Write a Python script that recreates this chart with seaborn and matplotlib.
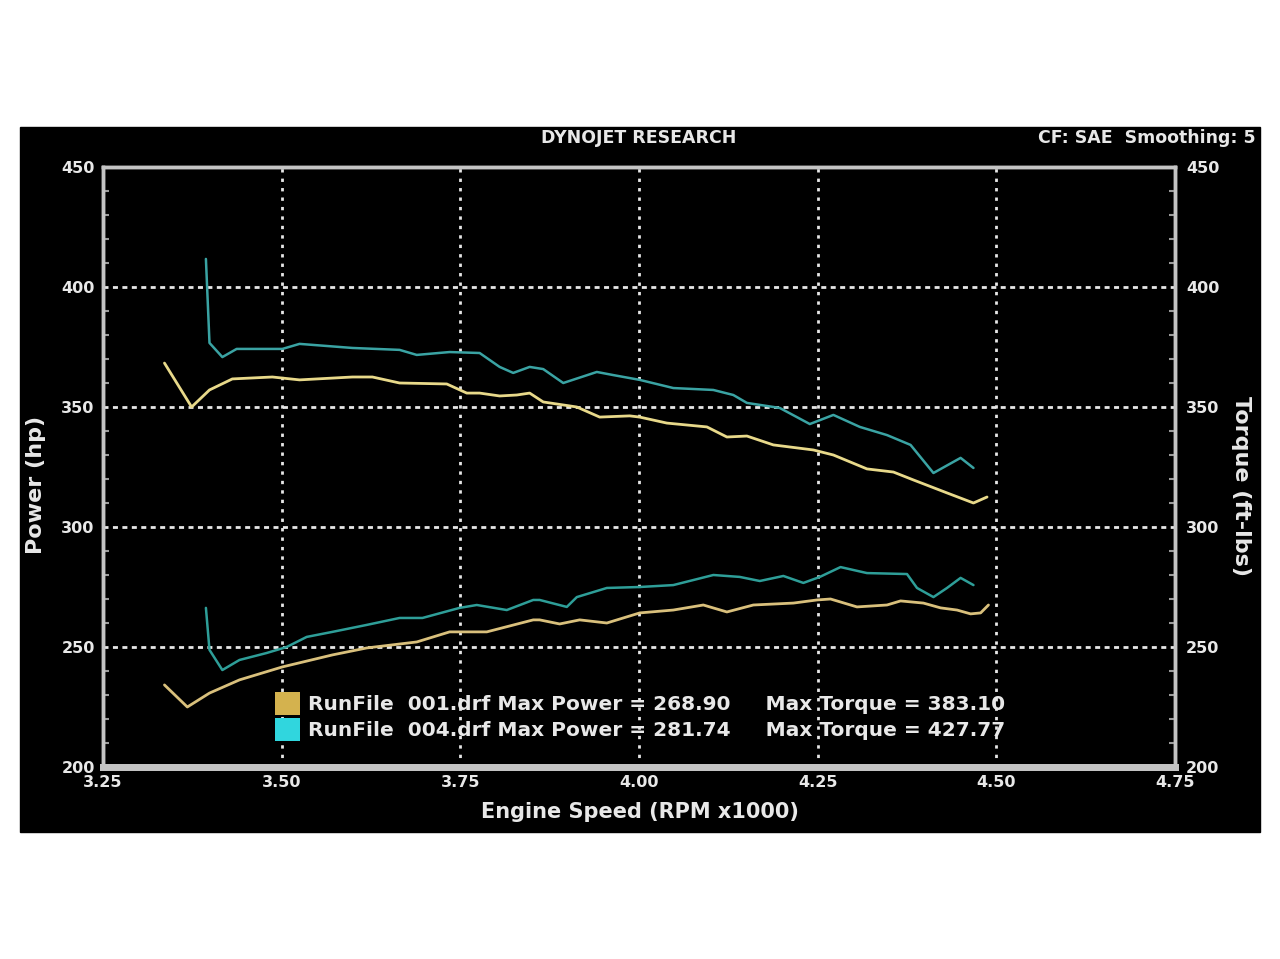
import numpy as np
import pandas as pd
import seaborn as sns
import matplotlib
matplotlib.use("Agg")
import matplotlib.pyplot as plt
from matplotlib.patches import Rectangle, Patch

# ---------------- data (read from the dyno sheet) ----------------
rpm_tq_001 = [3.336, 3.374, 3.399, 3.431, 3.487, 3.525, 3.599, 3.627, 3.665, 3.731, 3.759, 3.777,
              3.805, 3.829, 3.847, 3.866, 3.913, 3.945, 3.987, 4.001, 4.039, 4.095, 4.123, 4.151,
              4.188, 4.244, 4.272, 4.319, 4.356, 4.384, 4.431, 4.468, 4.487]
tq_001 = [368.3, 350.0, 357.1, 361.7, 362.5, 361.3, 362.5, 362.5, 360.0, 359.6, 355.8, 355.8,
          354.6, 355.0, 355.8, 352.1, 350.0, 345.8, 346.3, 345.8, 343.3, 341.7, 337.5, 337.9,
          334.2, 332.1, 330.0, 324.2, 322.9, 319.6, 314.2, 310.0, 312.5]

rpm_tq_004 = [3.394, 3.399, 3.417, 3.437, 3.501, 3.525, 3.599, 3.665, 3.689, 3.735, 3.777, 3.805,
              3.824, 3.847, 3.866, 3.894, 3.941, 3.964, 4.001, 4.048, 4.104, 4.132, 4.151, 4.197,
              4.239, 4.272, 4.309, 4.347, 4.380, 4.412, 4.450, 4.468]
tq_004 = [411.7, 376.7, 370.8, 374.2, 374.2, 376.3, 374.6, 373.8, 371.7, 372.9, 372.5, 366.7,
          364.2, 366.7, 365.8, 360.0, 364.6, 363.3, 361.3, 357.9, 357.1, 355.0, 351.7, 349.6,
          342.9, 346.7, 341.7, 338.3, 334.2, 322.5, 328.8, 324.6]

rpm_hp_001 = [3.336, 3.368, 3.399, 3.441, 3.501, 3.571, 3.619, 3.689, 3.735, 3.787, 3.852, 3.861,
              3.889, 3.917, 3.955, 4.001, 4.048, 4.090, 4.123, 4.160, 4.216, 4.249, 4.268, 4.305,
              4.347, 4.366, 4.398, 4.422, 4.445, 4.464, 4.478, 4.489]
hp_001 = [234.2, 225.0, 230.8, 236.3, 241.7, 246.7, 249.6, 252.1, 256.3, 256.3, 261.3, 261.3,
          259.6, 261.3, 260.0, 264.2, 265.4, 267.5, 264.6, 267.5, 268.3, 269.6, 270.0, 266.7,
          267.5, 269.2, 268.3, 266.3, 265.4, 263.8, 264.2, 267.5]

rpm_hp_004 = [3.394, 3.399, 3.417, 3.441, 3.479, 3.507, 3.535, 3.571, 3.619, 3.665, 3.697, 3.749,
              3.773, 3.815, 3.852, 3.861, 3.899, 3.913, 3.955, 4.001, 4.048, 4.104, 4.141, 4.169,
              4.202, 4.230, 4.253, 4.282, 4.319, 4.375, 4.389, 4.412, 4.431, 4.450, 4.468]
hp_004 = [266.3, 248.8, 240.4, 244.6, 247.5, 250.0, 254.2, 256.3, 259.2, 262.1, 262.1, 266.3,
          267.5, 265.4, 269.6, 269.6, 266.7, 270.8, 274.6, 275.0, 275.8, 280.0, 279.2, 277.5,
          279.6, 276.7, 279.2, 283.3, 280.8, 280.4, 274.6, 270.8, 274.6, 278.8, 275.8]

x_ticks = [3.25, 3.50, 3.75, 4.00, 4.25, 4.50, 4.75]
x_tick_labels = ["3.25", "3.50", "3.75", "4.00", "4.25", "4.50", "4.75"]
y_ticks = [200, 250, 300, 350, 400, 450]
legend_labels = [
    "RunFile  001.drf Max Power = 268.90     Max Torque = 383.10",
    "RunFile  004.drf Max Power = 281.74     Max Torque = 427.77",
]

# ---------------- style ----------------
sns.set_theme(style="dark")
plt.rcParams["font.family"] = ["DejaVu Sans"]
plt.rcParams["font.weight"] = "bold"

YEL = "#e8d98a"
YEL_HP = "#d9c07c"
CYA = "#3aa3a3"
CYA_HP = "#2e9e98"
TXT = "#e8e8e8"
FRAME = "#c4c4c4"

W, H = 1280, 959
fig = plt.figure(figsize=(W / 100, H / 100), dpi=100, facecolor="white")
fig.patches.append(Rectangle((20 / W, 1 - 832 / H), 1240 / W, 705 / H,
                             transform=fig.transFigure, color="black", zorder=-10))

L, R, T, B = 103, 1175, 167, 767
ax = fig.add_axes([L / W, 1 - B / H, (R - L) / W, (B - T) / H])
ax.set_facecolor("black")
ax2 = ax.twinx()

df_tq1 = pd.DataFrame({"rpm": rpm_tq_001, "val": tq_001})
df_tq4 = pd.DataFrame({"rpm": rpm_tq_004, "val": tq_004})
df_hp1 = pd.DataFrame({"rpm": rpm_hp_001, "val": hp_001})
df_hp4 = pd.DataFrame({"rpm": rpm_hp_004, "val": hp_004})

sns.lineplot(data=df_hp1, x="rpm", y="val", ax=ax, color=YEL_HP, lw=2.0, sort=False)
sns.lineplot(data=df_hp4, x="rpm", y="val", ax=ax, color=CYA_HP, lw=1.8, sort=False)
sns.lineplot(data=df_tq1, x="rpm", y="val", ax=ax2, color=YEL, lw=2.0, sort=False)
sns.lineplot(data=df_tq4, x="rpm", y="val", ax=ax2, color=CYA, lw=1.8, sort=False)

for a in (ax, ax2):
    a.set_xlim(3.25, 4.75)
    a.set_ylim(200, 450)
    a.set_xlabel("")
    a.set_ylabel("")
    a.grid(False)

# dotted grid (interior only)
for xv in x_ticks[1:-1]:
    ax.axvline(xv, color="#e6e6e6", lw=2.0, ls=(0, (1.2, 2.2)), zorder=0.5)
for yv in y_ticks[1:-1]:
    ax.axhline(yv, color="#e6e6e6", lw=2.0, ls=(0, (1.8, 1.6)), zorder=0.5)

# ticks
ax.set_xticks(x_ticks)
ax.set_xticklabels(x_tick_labels)
ax.set_yticks(y_ticks)
ax2.set_yticks(y_ticks)
ax.set_xticks(np.arange(3.30, 4.75, 0.05), minor=True)
ax.set_yticks(np.arange(210, 450, 10), minor=True)
ax2.set_yticks(np.arange(210, 450, 10), minor=True)
ax.tick_params(axis="both", which="major", length=0, colors=TXT, labelsize=11.5)
ax.tick_params(axis="x", which="major", pad=6)
ax.tick_params(axis="y", which="major", pad=6)
ax2.tick_params(axis="y", which="major", length=0, colors=TXT, labelsize=11.5, pad=8)
for a in (ax, ax2):
    a.tick_params(which="minor", direction="in", length=4, width=1.5, color="#9a9a9a")
    for lab in a.get_xticklabels() + a.get_yticklabels():
        lab.set_fontweight("bold")

for a in (ax, ax2):
    for s in a.spines.values():
        s.set_visible(True)
        s.set_color(FRAME)
        s.set_linewidth(2.5)
    a.spines["bottom"].set_linewidth(5)

# labels
fig.text(36 / W, 1 - 485 / H, "Power (hp)", rotation=90, ha="center", va="center",
         color=TXT, fontsize=16, fontweight="bold")
fig.text(1241 / W, 1 - 486 / H, "Torque (ft-lbs)", rotation=270, ha="center", va="center",
         color=TXT, fontsize=16, fontweight="bold")
fig.text(640 / W, 1 - 812 / H, "Engine Speed (RPM x1000)", ha="center", va="center",
         color=TXT, fontsize=15, fontweight="bold")
fig.text(639 / W, 1 - 138 / H, "DYNOJET RESEARCH", ha="center", va="center",
         color=TXT, fontsize=12.5, fontweight="bold")
fig.text(1256 / W, 1 - 138 / H, "CF: SAE  Smoothing: 5", ha="right", va="center",
         color=TXT, fontsize=12.5, fontweight="bold")

# legend
handles = [Patch(facecolor="#d4b24e", edgecolor="none"),
           Patch(facecolor="#30d6de", edgecolor="none")]
leg = ax.legend(handles, legend_labels, loc="upper left",
                bbox_to_anchor=(275 / W, 1 - 692 / H), bbox_transform=fig.transFigure,
                frameon=False, fontsize=14.5, handlelength=1.25, handleheight=1.4,
                handletextpad=0.4, labelspacing=0.12, borderaxespad=0, borderpad=0)
for t in leg.get_texts():
    t.set_color(TXT)
    t.set_fontweight("bold")

fig.savefig("out.png", dpi=100, facecolor="white")
